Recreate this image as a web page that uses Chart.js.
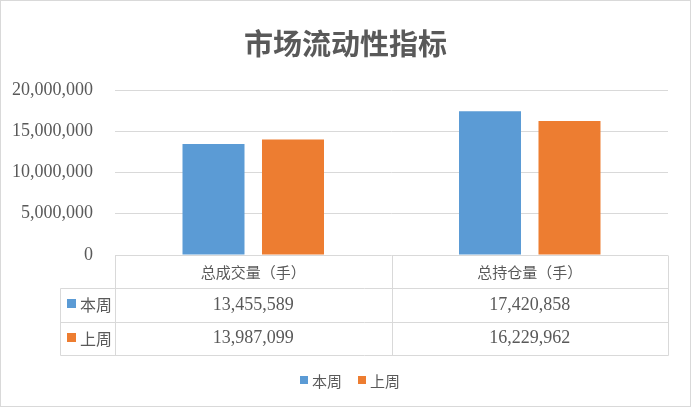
<!DOCTYPE html>
<html><head><meta charset="utf-8">
<script src="https://cdn.jsdelivr.net/npm/chart.js@4/dist/chart.umd.min.js"></script>
<style>html,body{margin:0;padding:0;background:#fff}canvas{display:block}</style>
</head><body>
<canvas id="c" width="691" height="407"></canvas>
<script>
const titleText = '市场流动性指标';
const categories = ['总成交量（手）', '总持仓量（手）'];
const seriesNames = ['本周', '上周'];
const thisWeek = [13455589, 17420858];
const lastWeek = [13987099, 16229962];
const yTickValues = [0, 5000000, 10000000, 15000000, 20000000];
const seriesColors = ['#5B9BD5', '#ED7D31'];

const TXT = '#595959';
const GRID = '#d9d9d9';
const NUMFONT = '"Liberation Serif", "DejaVu Serif", serif';
const CJKFONT = '"Noto Sans CJK SC", "Noto Sans", sans-serif';
const fmt = v => v.toLocaleString('en-US');

const extras = {
  id: 'extras',
  beforeDraw(chart) {
    const ctx = chart.ctx;
    ctx.save();
    ctx.fillStyle = '#fff';
    ctx.fillRect(0, 0, chart.width, chart.height);
    ctx.strokeStyle = GRID;
    ctx.lineWidth = 1;
    ctx.strokeRect(0.5, 0.5, chart.width - 1, chart.height - 1);
    ctx.restore();
  },
  afterDraw(chart) {
    const ctx = chart.ctx;
    const ca = chart.chartArea;
    const xs = chart.scales.x;
    ctx.save();
    // title
    ctx.fillStyle = TXT;
    ctx.font = 'bold 29px ' + CJKFONT;
    ctx.textAlign = 'center';
    ctx.textBaseline = 'middle';
    ctx.fillText(titleText, chart.width / 2, 44);

    // table geometry
    const n = categories.length;
    const colEdges = [ca.left];
    for (let i = 0; i < n - 1; i++) {
      colEdges.push((xs.getPixelForValue(i) + xs.getPixelForValue(i + 1)) / 2);
    }
    colEdges.push(ca.right);
    const top = ca.bottom;
    const rowH = 33.4;
    const rows = [top, top + rowH, top + 2 * rowH, top + 3 * rowH];
    const leftX = 60;

    ctx.strokeStyle = GRID;
    ctx.lineWidth = 1;
    const line = (x1, y1, x2, y2) => {
      ctx.beginPath();
      ctx.moveTo(Math.round(x1) + 0.5, Math.round(y1) + 0.5);
      ctx.lineTo(Math.round(x2) + 0.5, Math.round(y2) + 0.5);
      ctx.stroke();
    };
    for (let r = 1; r < rows.length; r++) line(leftX, rows[r], ca.right, rows[r]);
    colEdges.forEach(x => line(x, top, x, rows[3]));
    line(leftX, rows[1], leftX, rows[3]);

    // header
    ctx.fillStyle = TXT;
    ctx.font = '15px ' + CJKFONT;
    categories.forEach((c, i) => {
      ctx.fillText(c, xs.getPixelForValue(i), (rows[0] + rows[1]) / 2 + 1);
    });
    // rows
    const data = [thisWeek, lastWeek];
    for (let s = 0; s < 2; s++) {
      const cy = (rows[s + 1] + rows[s + 2]) / 2;
      ctx.fillStyle = seriesColors[s];
      ctx.fillRect(67, Math.round(cy) - 6, 9, 9);
      ctx.fillStyle = TXT;
      ctx.textAlign = 'left';
      ctx.font = '16px ' + CJKFONT;
      ctx.fillText(seriesNames[s], 80, cy);
      ctx.textAlign = 'center';
      ctx.font = '18px ' + NUMFONT;
      data[s].forEach((v, i) => {
        ctx.fillText(fmt(v), xs.getPixelForValue(i), cy);
      });
    }

    // legend
    const ly = 381;
    const items = [[300, 0], [358, 1]];
    ctx.textAlign = 'left';
    ctx.font = '15px ' + CJKFONT;
    items.forEach(([x, s]) => {
      ctx.fillStyle = seriesColors[s];
      ctx.fillRect(x, ly - 5, 8, 8);
      ctx.fillStyle = TXT;
      ctx.fillText(seriesNames[s], x + 12, ly);
    });
    ctx.restore();
  }
};

new Chart(document.getElementById('c'), {
  type: 'bar',
  data: {
    labels: categories,
    datasets: [
      { label: seriesNames[0], data: thisWeek, backgroundColor: seriesColors[0] },
      { label: seriesNames[1], data: lastWeek, backgroundColor: seriesColors[1] }
    ]
  },
  options: {
    responsive: false,
    devicePixelRatio: 1,
    animation: false,
    categoryPercentage: 0.575,
    barPercentage: 0.78,
    layout: { padding: { top: 90, right: 23, bottom: 152, left: 0 } },
    plugins: { legend: { display: false }, title: { display: false }, tooltip: { enabled: false } },
    scales: {
      x: { display: false },
      y: {
        min: 0, max: 20000000,
        afterFit(scale) { scale.width = 115; },
        afterBuildTicks(scale) { scale.ticks = yTickValues.map(v => ({ value: v })); },
        grid: { color: GRID, drawTicks: false },
        border: { display: false },
        ticks: {
          padding: 22,
          color: TXT,
          font: { family: NUMFONT, size: 18 },
          callback: v => fmt(v)
        }
      }
    }
  },
  plugins: [extras]
});
</script>
</body></html>
